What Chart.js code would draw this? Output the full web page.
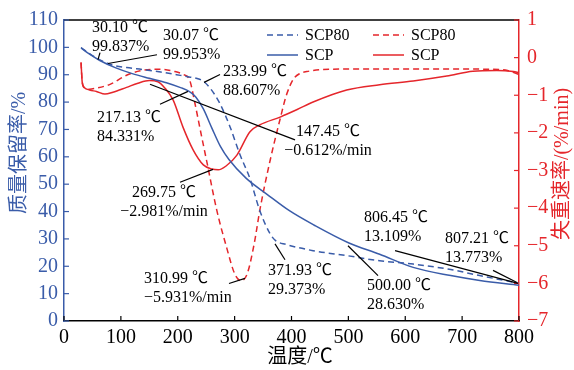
<!DOCTYPE html>
<html>
<head>
<meta charset="utf-8">
<script src="https://cdn.jsdelivr.net/npm/chart.js@4.4.1/dist/chart.umd.min.js"></script>
<style>
  html, body { margin: 0; padding: 0; background: #fff; }
  #wrap { width: 574px; height: 370px; }
</style>
</head>
<body>
<div id="wrap"><canvas id="tg-chart" width="574" height="370"></canvas></div>
<script>
// TG curves (mass retention, left axis)
var scpTgTemp   = [30, 45, 63, 90, 120, 150, 180, 205, 220, 232, 245, 260, 275, 290, 320, 357, 397, 440, 500, 555, 614, 680, 731, 800];
var scpTgMass   = [99.8, 97.5, 95.2, 92.6, 90.4, 88.7, 87.1, 85.3, 83.9, 81.8, 77.5, 70.5, 63.8, 59.0, 52.2, 46.3, 40.2, 35.0, 28.6, 24.4, 19.6, 16.6, 14.8, 13.1];
var scp80TgTemp = [30, 50, 81, 110, 139, 170, 198, 220, 234, 245, 258, 274, 292, 309, 327, 344, 362, 372, 390, 438, 497, 555, 614, 680, 731, 800];
var scp80TgMass = [99.95, 97.0, 93.8, 92.6, 91.9, 91.0, 90.0, 89.2, 88.6, 87.6, 84.8, 79.5, 70.9, 61.0, 52.0, 40.5, 32.0, 29.4, 28.0, 25.7, 23.9, 22.0, 20.8, 18.8, 16.6, 13.8];

// DTG curves (weight loss rate, right axis)
var scpDtgTemp   = [30, 32, 36, 45, 57, 72, 86, 110, 130, 150, 165, 178, 192, 209, 227, 245, 260, 271, 285, 304, 327, 344, 380, 410, 438, 497, 555, 614, 673, 719, 761, 790, 800];
var scpDtgRate   = [-0.13, -0.65, -0.8, -0.86, -0.9, -0.97, -0.92, -0.79, -0.68, -0.61, -0.64, -0.82, -1.13, -1.84, -2.45, -2.85, -2.96, -2.98, -2.88, -2.59, -1.97, -1.79, -1.58, -1.38, -1.18, -0.86, -0.72, -0.62, -0.49, -0.36, -0.34, -0.37, -0.40];
var scp80DtgTemp = [30, 32, 36, 45, 54, 81, 110, 134, 169, 192, 210, 221, 230, 240, 251, 269, 286, 300, 311, 322, 335, 344, 362, 380, 391, 403, 415, 427, 467, 550, 650, 750, 780, 800];
var scp80DtgRate = [-0.13, -0.65, -0.8, -0.84, -0.82, -0.71, -0.47, -0.35, -0.31, -0.36, -0.45, -0.6, -1.2, -1.95, -2.76, -4.08, -5.05, -5.74, -5.93, -5.75, -4.9, -4.08, -2.76, -1.63, -1.0, -0.58, -0.42, -0.37, -0.31, -0.30, -0.30, -0.31, -0.34, -0.45];

// axis ranges
var tempRange = [0, 800];
var massRange = [0, 110];
var rateRange = [-7, 1];

// callouts: text lines, first-line anchor [temp, mass], leader line ends
var callouts = [
  { lines: ['30.10 \u2103', '99.837%'], at: [49.2, 107.1], align: 'left', leader: [[63.3, 98.1], [59.8, 95.5]] },
  { lines: ['30.07 \u2103', '99.953%'], at: [174.1, 104.2], align: 'left', leader: [[163.5, 97.3], [77.4, 94.1]] },
  { lines: ['233.99 \u2103', '88.607%'], at: [279.6, 91.2], align: 'left', leader: [[274.3, 90.1], [246.2, 87.2]] },
  { lines: ['217.13 \u2103', '84.331%'], at: [58.0, 74.2], align: 'left', leader: [[168.8, 79.2], [218.0, 83.9]] },
  { lines: ['147.45 \u2103', '\u22120.612%/min'], at: [464.2, 69.1], align: 'center', leader: [[151.2, 86.5], [406.2, 66.2]] },
  { lines: ['269.75 \u2103', '\u22122.981%/min'], at: [175.8, 46.7], align: 'center', leader: [[204.0, 50.7], [262.0, 55.4]] },
  { lines: ['310.99 \u2103', '\u22125.931%/min'], at: [140.7, 15.6], align: 'left', leader: [[290.1, 13.7], [318.2, 15.6]] },
  { lines: ['371.93 \u2103', '29.373%'], at: [358.7, 18.5], align: 'left', leader: [[371.0, 28.2], [388.6, 22.4]] },
  { lines: ['500.00 \u2103', '28.630%'], at: [532.7, 13.0], align: 'left', leader: [[552.1, 16.6], [499.3, 27.5]] },
  { lines: ['806.45 \u2103', '13.109%'], at: [527.5, 37.6], align: 'left', leader: [[582.0, 25.7], [798.2, 13.75]] },
  { lines: ['807.21 \u2103', '13.773%'], at: [669.9, 30.0], align: 'left', leader: [[754.3, 18.5], [796.5, 14.1]] }
];

var BLUE = '#3a5ca9',
    RED = '#e5262b',
    SERIF = '"Liberation Serif", "Noto Sans CJK SC", serif';

function pairUp(temps, vals) {
  return temps.map(function(t, i) { return { x: t, y: vals[i] }; });
}

function minusSign(v) {
  return v < 0 ? '\u2212' + Math.abs(v) : String(v);
}

var decorPlugin = {
  id: 'tgDecor',
  afterDraw: function(chart) {
    var ctx = chart.ctx,
        area = chart.chartArea,
        xs = chart.scales.x,
        ys = chart.scales.y,
        ys1 = chart.scales.y1,
        tickLen = 5;

    ctx.save();

    // top frame
    ctx.strokeStyle = '#000';
    ctx.lineWidth = 1.5;
    ctx.beginPath();
    ctx.moveTo(area.left, area.top);
    ctx.lineTo(area.right, area.top);
    ctx.stroke();

    // inward ticks
    ctx.lineWidth = 1.2;
    xs.ticks.forEach(function(t) {
      var px = xs.getPixelForValue(t.value);
      ctx.beginPath();
      ctx.moveTo(px, area.bottom);
      ctx.lineTo(px, area.bottom - tickLen);
      ctx.stroke();
    });
    ctx.strokeStyle = BLUE;
    ys.ticks.forEach(function(t) {
      var py = ys.getPixelForValue(t.value);
      ctx.beginPath();
      ctx.moveTo(area.left, py);
      ctx.lineTo(area.left + tickLen, py);
      ctx.stroke();
    });
    ctx.strokeStyle = RED;
    ys1.ticks.forEach(function(t) {
      var py = ys1.getPixelForValue(t.value);
      ctx.beginPath();
      ctx.moveTo(area.right, py);
      ctx.lineTo(area.right - tickLen, py);
      ctx.stroke();
    });

    // callouts with leader lines
    ctx.strokeStyle = '#000';
    ctx.fillStyle = '#000';
    ctx.lineWidth = 1.2;
    ctx.font = '16px ' + SERIF;
    ctx.textBaseline = 'middle';
    callouts.forEach(function(c) {
      ctx.beginPath();
      ctx.moveTo(xs.getPixelForValue(c.leader[0][0]), ys.getPixelForValue(c.leader[0][1]));
      ctx.lineTo(xs.getPixelForValue(c.leader[1][0]), ys.getPixelForValue(c.leader[1][1]));
      ctx.stroke();
      ctx.textAlign = c.align;
      var tx = xs.getPixelForValue(c.at[0]),
          ty = ys.getPixelForValue(c.at[1]);
      c.lines.forEach(function(line, i) {
        ctx.fillText(line, tx, ty + i * 19);
      });
    });

    // legend, two columns (TG / DTG) by two rows (SCP80 on top)
    var ds = chart.data.datasets,
        cols = [[ds[0], ds[1]], [ds[2], ds[3]]],
        colX = [area.right - 252, area.right - 146];
    ctx.font = '16px ' + SERIF;
    ctx.textAlign = 'left';
    cols.forEach(function(col, ci) {
      col.forEach(function(d, ri) {
        var ly = area.top + 15 + ri * 20;
        ctx.strokeStyle = d.borderColor;
        ctx.lineWidth = 1.5;
        ctx.setLineDash(d.borderDash || []);
        ctx.beginPath();
        ctx.moveTo(colX[ci], ly);
        ctx.lineTo(colX[ci] + 31, ly);
        ctx.stroke();
        ctx.setLineDash([]);
        ctx.fillStyle = '#000';
        ctx.fillText(d.label, colX[ci] + 38, ly + 1);
      });
    });

    // axis titles
    ctx.font = '20px ' + SERIF;
    ctx.textAlign = 'center';
    ctx.fillStyle = '#000';
    ctx.fillText('\u6e29\u5ea6/\u2103', 300, 358);

    ctx.save();
    ctx.translate(20, 153);
    ctx.rotate(-Math.PI / 2);
    ctx.fillStyle = BLUE;
    ctx.fillText('\u8d28\u91cf\u4fdd\u7559\u7387/%', 0, 0);
    ctx.restore();

    ctx.save();
    ctx.translate(563, 164);
    ctx.rotate(-Math.PI / 2);
    ctx.fillStyle = RED;
    ctx.fillText('\u5931\u91cd\u901f\u7387/(%/min)', 0, 0);
    ctx.restore();

    ctx.restore();
  }
};

var chartElem = document.getElementById('tg-chart');

var config = {
  type: 'line',
  data: {
    datasets: [{
      label: 'SCP80',
      data: pairUp(scp80TgTemp, scp80TgMass),
      yAxisID: 'y',
      borderColor: BLUE,
      borderDash: [6, 4],
      borderWidth: 1.5
    }, {
      label: 'SCP',
      data: pairUp(scpTgTemp, scpTgMass),
      yAxisID: 'y',
      borderColor: BLUE,
      borderWidth: 1.5
    }, {
      label: 'SCP80',
      data: pairUp(scp80DtgTemp, scp80DtgRate),
      yAxisID: 'y1',
      borderColor: RED,
      borderDash: [6, 4],
      borderWidth: 1.5
    }, {
      label: 'SCP',
      data: pairUp(scpDtgTemp, scpDtgRate),
      yAxisID: 'y1',
      borderColor: RED,
      borderWidth: 1.5
    }]
  },
  options: {
    responsive: false,
    animation: false,
    events: [],
    devicePixelRatio: 1,
    layout: { padding: { top: 17, left: 0, right: 0, bottom: 0 } },
    elements: {
      point: { radius: 0 },
      line: { cubicInterpolationMode: 'monotone', fill: false }
    },
    plugins: {
      legend: { display: false },
      tooltip: { enabled: false }
    },
    scales: {
      x: {
        type: 'linear',
        min: tempRange[0],
        max: tempRange[1],
        afterFit: function(s) { s.height = 49; },
        grid: { display: false, drawTicks: false },
        border: { color: '#000', width: 1.5 },
        ticks: { stepSize: 100, padding: 5, color: '#000', maxRotation: 0, font: { family: SERIF, size: 20 } }
      },
      y: {
        position: 'left',
        min: massRange[0],
        max: massRange[1],
        afterFit: function(s) { s.width = 64; },
        grid: { display: false, drawTicks: false },
        border: { color: BLUE, width: 1.5 },
        ticks: { stepSize: 10, padding: 6, color: BLUE, font: { family: SERIF, size: 20 } }
      },
      y1: {
        position: 'right',
        min: rateRange[0],
        max: rateRange[1],
        afterFit: function(s) { s.width = 55; },
        grid: { display: false, drawTicks: false },
        border: { color: RED, width: 1.5 },
        ticks: { stepSize: 1, padding: 8, color: RED, font: { family: SERIF, size: 20 }, callback: minusSign }
      }
    }
  },
  plugins: [decorPlugin]
};

var graph = new Chart(chartElem, config);
</script>
</body>
</html>
